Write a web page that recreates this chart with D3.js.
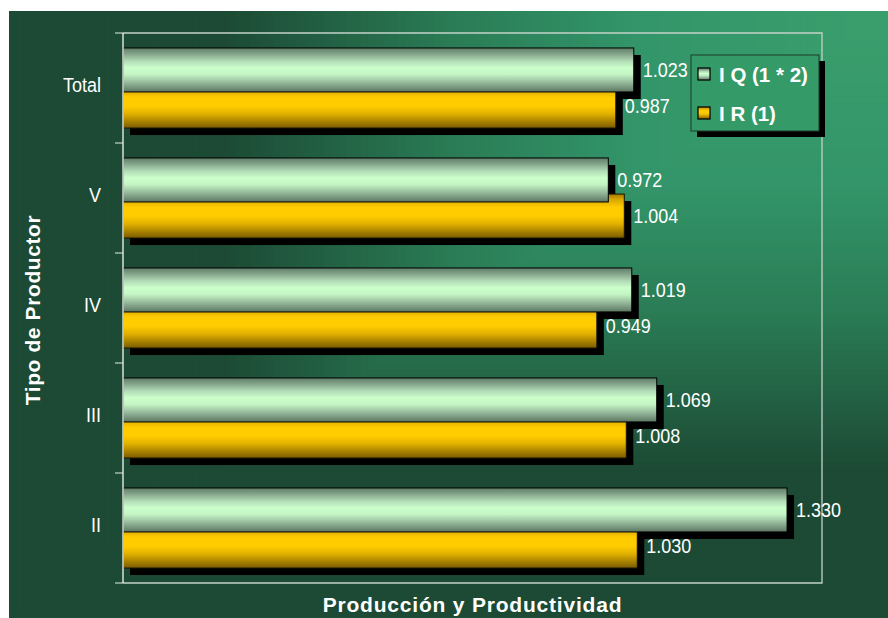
<!DOCTYPE html>
<html>
<head>
<meta charset="utf-8">
<script src="https://cdn.jsdelivr.net/npm/d3@7/dist/d3.min.js"></script>
<style>
  html, body { margin: 0; padding: 0; background: #ffffff; }
  svg { display: block; }
  .narrow { font-family: "Liberation Sans Narrow", "Arial Narrow", "Liberation Sans", Arial, sans-serif; }
  .bold { font-family: "Liberation Sans", Arial, Helvetica, sans-serif; font-weight: bold; }
</style>
</head>
<body>
<svg id="chart" width="888" height="618"></svg>
<script>
// ---- data ----
const categories = ["Total", "V", "IV", "III", "II"];
const seriesNames = ["I Q (1 * 2)", "I R (1)"];
const iqValues = [1.023, 0.972, 1.019, 1.069, 1.330];
const irValues = [0.987, 1.004, 0.949, 1.008, 1.030];
const xDomain = [0, 1.4];
const yTitle = "Tipo de Productor";
const xTitle = "Producción y Productividad";

// ---- layout ----
const bg = { x: 9, y: 11, w: 879, h: 607 };
const plot = { left: 123, right: 822, top: 33, bottom: 583 };

const svg = d3.select("#chart");
const defs = svg.append("defs");

// measure narrow-font availability: condense horizontally if needed
const probe = svg.append("text").attr("class", "narrow").attr("font-size", 21).text("1.004");
const probeW = probe.node().getComputedTextLength();
probe.remove();
const sx = Math.min(1, 45 / probeW);

function vGrad(id, stops) {
  const g = defs.append("linearGradient").attr("id", id)
    .attr("x1", 0).attr("y1", 0).attr("x2", 0).attr("y2", 1);
  stops.forEach(s => g.append("stop").attr("offset", s[0]).attr("stop-color", s[1]));
}
vGrad("gGreen", [[0, "#5f7d66"], [0.12, "#7f9f86"], [0.3, "#b2dcb6"], [0.45, "#ccffcc"], [0.6, "#c4f4c4"], [0.78, "#97bb9c"], [0.92, "#728f78"], [1, "#5a765f"]]);
vGrad("gYellow", [[0, "#a07800"], [0.12, "#d8a600"], [0.3, "#ffcc00"], [0.5, "#ffcc00"], [0.68, "#e0b000"], [0.85, "#a98200"], [1, "#7a5c00"]]);

// ---- background: "from corner" gradient (rectangular contours from top-right) ----
const bgColor = d3.scaleLinear()
  .domain([0, 0.28, 0.5, 0.76, 1])
  .range(["#3a9e6c", "#33966a", "#2a7c55", "#1c4a34", "#1c4a34"])
  .interpolate(d3.interpolateRgb);
const steps = d3.range(120, 0, -1).map(i => i / 120);
svg.append("g").selectAll("rect").data(steps).join("rect")
  .attr("x", t => bg.x + bg.w * (1 - t))
  .attr("y", bg.y)
  .attr("width", t => bg.w * t)
  .attr("height", t => bg.h * t)
  .attr("fill", t => bgColor(t));

// ---- scales ----
const x = d3.scaleLinear().domain(xDomain).range([plot.left, plot.right]);
const y = d3.scaleBand().domain(categories).range([plot.top, plot.bottom]).padding(0);
const bw = y.bandwidth();
const barH = bw * 0.40;
const offG = bw * 0.136;
const offY = bw * 0.464;
const shX = 7, shY = 7;

const rows = categories.map((c, i) => ({ cat: c, iq: iqValues[i], ir: irValues[i] }));

// plot area border (top, right, bottom)
svg.append("path")
  .attr("d", `M${plot.left},${plot.top}H${plot.right}V${plot.bottom}H${plot.left}`)
  .attr("fill", "none").attr("stroke", "#c3d2c7").attr("stroke-width", 1.3);

// shadows
const gBars = svg.append("g");
gBars.selectAll("rect.shG").data(rows).join("rect").attr("class", "shG")
  .attr("x", x(0) + shX).attr("y", d => y(d.cat) + offG + shY)
  .attr("width", d => x(d.iq) - x(0)).attr("height", barH).attr("fill", "#000");
gBars.selectAll("rect.shY").data(rows).join("rect").attr("class", "shY")
  .attr("x", x(0) + shX).attr("y", d => y(d.cat) + offY + shY)
  .attr("width", d => x(d.ir) - x(0)).attr("height", barH).attr("fill", "#000");
gBars.selectAll("rect.bY").data(rows).join("rect").attr("class", "bY")
  .attr("x", x(0)).attr("y", d => y(d.cat) + offY)
  .attr("width", d => x(d.ir) - x(0)).attr("height", barH)
  .attr("fill", "url(#gYellow)").attr("stroke", "#1a1400").attr("stroke-width", 1);
gBars.selectAll("rect.bG").data(rows).join("rect").attr("class", "bG")
  .attr("x", x(0)).attr("y", d => y(d.cat) + offG)
  .attr("width", d => x(d.iq) - x(0)).attr("height", barH)
  .attr("fill", "url(#gGreen)").attr("stroke", "#000").attr("stroke-width", 1);

// value labels
const fmt = d3.format(".3f");
const gLab = svg.append("g").attr("class", "narrow").attr("fill", "#ffffff").attr("font-size", 21);
gLab.selectAll("text.lg").data(rows).join("text").attr("class", "lg")
  .attr("transform", d => `translate(${x(d.iq) + 9},${y(d.cat) + offG + barH / 2 + 7}) scale(${sx},1)`)
  .text(d => fmt(d.iq));
gLab.selectAll("text.ly").data(rows).join("text").attr("class", "ly")
  .attr("transform", d => `translate(${x(d.ir) + 9},${y(d.cat) + offY + barH / 2 + 7}) scale(${sx},1)`)
  .text(d => fmt(d.ir));

// y axis
const yAxis = d3.axisLeft(y).tickSize(0).tickPadding(22);
const gy = svg.append("g").attr("transform", `translate(${plot.left},0)`).call(yAxis);
gy.select(".domain").remove();
gy.selectAll("text").attr("class", "narrow").attr("font-size", 21).attr("fill", "#ffffff")
  .attr("dy", null).attr("x", null).attr("y", null)
  .attr("transform", `translate(-22,4) scale(${sx},1)`);
// tick marks at band boundaries
const bounds = categories.map(c => y(c)).concat([plot.bottom]);
svg.append("g").selectAll("line").data(bounds).join("line")
  .attr("x1", plot.left - 8).attr("x2", plot.left).attr("y1", d => d).attr("y2", d => d)
  .attr("stroke", "#b9c9bd").attr("stroke-width", 1.3);
svg.append("line").attr("x1", plot.left).attr("x2", plot.left)
  .attr("y1", plot.top).attr("y2", plot.bottom)
  .attr("stroke", "#e4ece6").attr("stroke-width", 1.4);

// axis titles
svg.append("text").attr("class", "bold").attr("fill", "#fff").attr("font-size", 21)
  .attr("letter-spacing", 0.8).attr("text-anchor", "middle")
  .attr("x", (plot.left + plot.right) / 2).attr("y", 612).text(xTitle);
svg.append("text").attr("class", "bold").attr("fill", "#fff").attr("font-size", 21)
  .attr("letter-spacing", 0.6).attr("text-anchor", "middle")
  .attr("transform", "translate(40,310) rotate(-90)").text(yTitle);

// legend
const lg = { x: 691, y: 55, w: 128, h: 76 };
const gL = svg.append("g");
gL.append("rect").attr("x", lg.x + 6).attr("y", lg.y + 6).attr("width", lg.w).attr("height", lg.h).attr("fill", "#000");
gL.append("rect").attr("x", lg.x).attr("y", lg.y).attr("width", lg.w).attr("height", lg.h)
  .attr("fill", "#349a68").attr("stroke", "#1e3a2a").attr("stroke-width", 1);
const legItems = [{ name: seriesNames[0], fill: "url(#gGreen)" }, { name: seriesNames[1], fill: "url(#gYellow)" }];
const li = gL.selectAll("g.li").data(legItems).join("g").attr("class", "li")
  .attr("transform", (d, i) => `translate(${lg.x + 7},${lg.y + 19 + i * 39})`);
li.append("rect").attr("x", 0).attr("y", -6).attr("width", 12).attr("height", 12)
  .attr("fill", d => d.fill).attr("stroke", "#000").attr("stroke-width", 1.2);
li.append("text").attr("class", "bold").attr("fill", "#fff").attr("font-size", 20.5)
  .attr("x", 21).attr("y", 8).text(d => d.name);
</script>
</body>
</html>
